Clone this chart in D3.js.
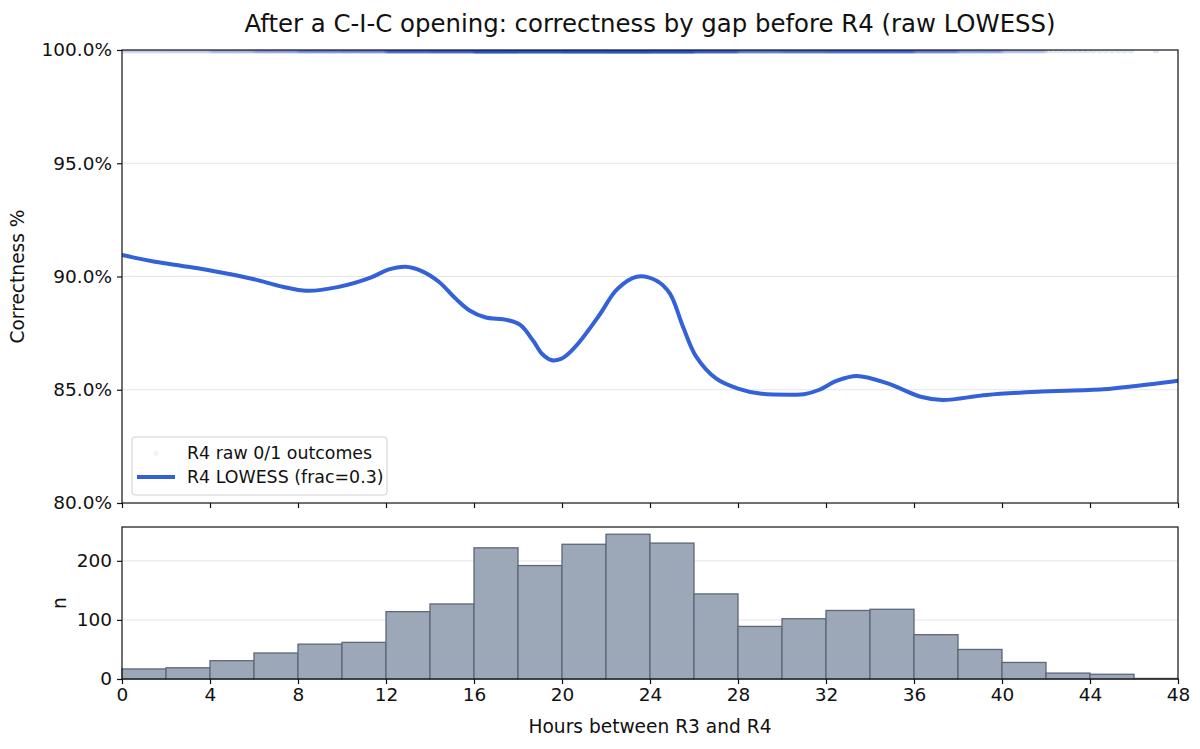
<!DOCTYPE html>
<html>
<head>
<meta charset="utf-8">
<script src="https://cdn.jsdelivr.net/npm/d3@7"></script>
<style>
  body { margin: 0; background: #fff; }
  text { font-family: "DejaVu Sans", sans-serif; fill: #111; }
</style>
</head>
<body>
<div id="content"></div>
<script>
// LOWESS curve (hours, correctness %)
var lowessHours = [0, 1.5, 3, 4.5, 6, 7.3, 8.4, 9.8, 11.3, 12.1, 12.9, 13.6, 14.4, 15.15, 15.8, 16.5,
    17.5, 18.1, 18.7, 19.1, 19.55, 19.95, 20.3, 20.8, 21.7, 22.5, 23.4, 24.3, 24.9, 25.5, 26.1, 27.0, 28.0,
    29.0, 30.5, 31.0, 31.7, 32.5, 33.4, 34.8, 36.3, 37.3, 39.3, 41.6, 44.6, 46.1, 48];
var lowessPct = [90.95, 90.65, 90.43, 90.18, 89.88, 89.55, 89.37, 89.53, 89.95, 90.3, 90.43, 90.25,
    89.77, 89.04, 88.5, 88.2, 88.08, 87.86, 87.15, 86.58, 86.3, 86.36, 86.6, 87.12, 88.3, 89.43, 89.99, 89.81,
    89.25, 87.78, 86.46, 85.5, 85.05, 84.83, 84.78, 84.8, 85.0, 85.4, 85.61, 85.28, 84.69, 84.55,
    84.77, 84.91, 85.02, 85.17, 85.4];

// histogram: 2-hour bins
var binStarts = d3.range(0, 48, 2);
var binCounts = [17, 19, 31, 44, 59, 62, 114, 127, 222, 192, 228, 245, 230, 144, 89, 102, 116, 118,
    75, 50, 28, 10, 8, 1];
// outcomes = 1 per bin (the only raw points that land inside the 80-100% window)
var binCorrect = [16, 17, 28, 39, 53, 56, 103, 113, 197, 166, 197, 221, 200, 124, 75, 87, 99, 100,
    63, 42, 24, 9, 7, 1];

var pctTicks = [80, 85, 90, 95, 100];
var hourTicks = d3.range(0, 49, 4);
var nTicks = [0, 100, 200];

var W = 1200, H = 749;
var left = 122, right = 1178;
var top1 = 50, bot1 = 503;
var top2 = 527, bot2 = 679;
var blue = '#3261d8';
var tickFont = '18.5px', labelFont = '18.6px';

var svg = d3.select('#content').append('svg')
    .attr('width', W)
    .attr('height', H);

var x = d3.scaleLinear().domain([0, 48]).range([left, right]);
var y1 = d3.scaleLinear().domain([80, 100]).range([bot1, top1]);
var y2 = d3.scaleLinear().domain([0, d3.max(binCounts) * 1.05]).range([bot2, top2]);

svg.append('defs').append('clipPath').attr('id', 'clip1')
    .append('rect').attr('x', left).attr('y', top1).attr('width', right - left).attr('height', bot1 - top1);

// title
svg.append('text')
    .attr('x', (left + right) / 2).attr('y', 32)
    .attr('text-anchor', 'middle')
    .style('font-size', '24.4px')
    .text('After a C-I-C opening: correctness by gap before R4 (raw LOWESS)');

// grids
svg.append('g').selectAll('line').data(pctTicks.slice(1, 4)).enter().append('line')
    .attr('x1', left).attr('x2', right)
    .attr('y1', function(d) { return y1(d); }).attr('y2', function(d) { return y1(d); })
    .attr('stroke', '#e6e6e6').attr('stroke-width', 1);
svg.append('g').selectAll('line').data([100, 200]).enter().append('line')
    .attr('x1', left).attr('x2', right)
    .attr('y1', function(d) { return y2(d); }).attr('y2', function(d) { return y2(d); })
    .attr('stroke', '#e6e6e6').attr('stroke-width', 1);

// raw 0/1 outcomes (only the 1s are in view, along the top edge)
var raw = [];
binStarts.forEach(function(b, i) {
    var k = binCorrect[i];
    for (var j = 0; j < k; j++) raw.push(b + (j + 0.5) * 2 / k);
});
svg.append('g').attr('clip-path', 'url(#clip1)')
    .selectAll('circle').data(raw).enter().append('circle')
    .attr('cx', function(d) { return x(d); })
    .attr('cy', y1(100))
    .attr('r', 3.4)
    .attr('fill', '#2a55c8')
    .attr('fill-opacity', 0.14);

// LOWESS line
var pts = lowessHours.map(function(h, i) { return [h, lowessPct[i]]; });
var line = d3.line()
    .x(function(d) { return x(d[0]); })
    .y(function(d) { return y1(d[1]); })
    .curve(d3.curveCatmullRom.alpha(0.5));
svg.append('path').attr('clip-path', 'url(#clip1)')
    .datum(pts)
    .attr('d', line)
    .attr('fill', 'none')
    .attr('stroke', blue)
    .attr('stroke-width', 4)
    .attr('stroke-linecap', 'round')
    .attr('stroke-linejoin', 'round');

// histogram bars
svg.append('g').selectAll('rect').data(binCounts).enter().append('rect')
    .attr('x', function(d, i) { return x(binStarts[i]); })
    .attr('width', function(d, i) { return x(binStarts[i] + 2) - x(binStarts[i]); })
    .attr('y', function(d) { return y2(d); })
    .attr('height', function(d) { return y2(0) - y2(d); })
    .attr('fill', '#9ca7b8')
    .attr('stroke', '#5d6778')
    .attr('stroke-width', 1.3);

// axes
var fmtPct = function(d) { return d.toFixed(1) + '%'; };
function styleAxis(g) {
    g.selectAll('text').style('font-size', tickFont).attr('fill', '#111');
    g.selectAll('.tick line').attr('stroke', '#111').attr('stroke-width', 1.2);
    g.select('.domain').remove();
}
svg.append('g').attr('transform', 'translate(' + left + ',0)')
    .call(d3.axisLeft(y1).tickValues(pctTicks).tickFormat(fmtPct).tickSize(5).tickPadding(5))
    .call(styleAxis);
svg.append('g').attr('transform', 'translate(0,' + bot1 + ')')
    .call(d3.axisBottom(x).tickValues(hourTicks).tickFormat('').tickSize(5))
    .call(styleAxis);
svg.append('g').attr('transform', 'translate(' + left + ',0)')
    .call(d3.axisLeft(y2).tickValues(nTicks).tickSize(5).tickPadding(5))
    .call(styleAxis);
svg.append('g').attr('transform', 'translate(0,' + bot2 + ')')
    .call(d3.axisBottom(x).tickValues(hourTicks).tickSize(5).tickPadding(4))
    .call(styleAxis);

// frames
[[top1, bot1], [top2, bot2]].forEach(function(p) {
    svg.append('rect')
        .attr('x', left).attr('y', p[0])
        .attr('width', right - left).attr('height', p[1] - p[0])
        .attr('fill', 'none').attr('stroke', '#111').attr('stroke-width', 1.2);
});

// axis labels
svg.append('text')
    .attr('transform', 'translate(24,' + (top1 + bot1) / 2 + ') rotate(-90)')
    .attr('text-anchor', 'middle')
    .style('font-size', labelFont)
    .text('Correctness %');
svg.append('text')
    .attr('transform', 'translate(66,' + (top2 + bot2) / 2 + ') rotate(-90)')
    .attr('text-anchor', 'middle')
    .style('font-size', labelFont)
    .text('n');
svg.append('text')
    .attr('x', (left + right) / 2).attr('y', 733)
    .attr('text-anchor', 'middle')
    .style('font-size', labelFont)
    .text('Hours between R3 and R4');

// legend
var lg = svg.append('g').attr('transform', 'translate(132,437)');
lg.append('rect')
    .attr('width', 255).attr('height', 58).attr('rx', 3)
    .attr('fill', '#fff').attr('fill-opacity', 0.8)
    .attr('stroke', '#d0d0d0');
lg.append('circle').attr('cx', 24).attr('cy', 16).attr('r', 2.6)
    .attr('fill', blue).attr('fill-opacity', 0.08);
lg.append('line').attr('x1', 5).attr('x2', 43).attr('y1', 40).attr('y2', 40)
    .attr('stroke', blue).attr('stroke-width', 4);
lg.append('text').attr('x', 55).attr('y', 22).style('font-size', '17.4px').text('R4 raw 0/1 outcomes');
lg.append('text').attr('x', 55).attr('y', 46).style('font-size', '17.4px').text('R4 LOWESS (frac=0.3)');
</script>
</body>
</html>
